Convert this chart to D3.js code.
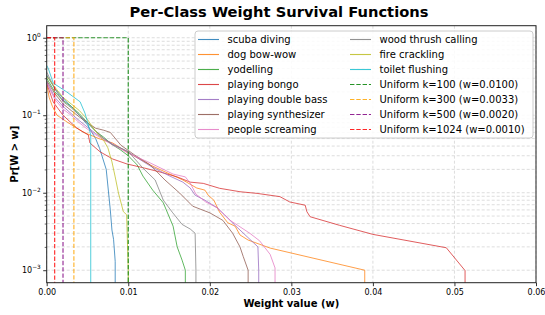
<!DOCTYPE html>
<html>
<head>
<meta charset="utf-8">
<script src="https://cdn.jsdelivr.net/npm/d3@7"></script>
<style>
  body { margin: 0; background: #fff; }
  svg { font-family: "DejaVu Sans", sans-serif; }
</style>
</head>
<body>
<div id="chart"></div>
<script>
// survival curves, [w, Pr[W > w]]
var scubaDiving = [[0,0.33],[0.001,0.22],[0.002,0.165],[0.003,0.13],[0.004,0.1],[0.005,0.075],[0.006,0.05],[0.0065,0.037],[0.0073,0.02],[0.0078,0.006],[0.008,0.0033],[0.0082,0.0025],[0.0084,0.0013]];
var dogBowWow = [[0,0.25],[0.0003,0.17],[0.0007,0.13],[0.00126,0.1],[0.0025,0.0817],[0.00445,0.0607],[0.00653,0.0493],[0.0081,0.0438],[0.00984,0.0335],[0.0127,0.0228],[0.0151,0.0174],[0.0167,0.0146],[0.0184,0.0115],[0.0194,0.0108],[0.0198,0.0093],[0.0205,0.008],[0.0212,0.0056],[0.0222,0.0041],[0.0231,0.0037],[0.0237,0.00285],[0.0247,0.00245],[0.0274,0.00193],[0.039,0.001]];
var yodelling = [[0,0.3],[0.001,0.2],[0.002,0.155],[0.003,0.13],[0.004,0.105],[0.005,0.08],[0.006,0.062],[0.007,0.052],[0.008,0.042],[0.009,0.036],[0.01,0.03],[0.0111,0.0228],[0.0118,0.0164],[0.013,0.0108],[0.0143,0.0074],[0.0155,0.0037],[0.016,0.002],[0.0166,0.00135],[0.017,0.001]];
var playingBongo = [[0,0.26],[0.0002,0.224],[0.0008,0.148],[0.002,0.1],[0.00368,0.0684],[0.0051,0.0556],[0.0053,0.0438],[0.00653,0.0338],[0.0081,0.0272],[0.00984,0.0235],[0.012,0.0208],[0.0139,0.0185],[0.016,0.016],[0.0176,0.0137],[0.0192,0.0132],[0.0212,0.0114],[0.0237,0.0103],[0.0258,0.0098],[0.0286,0.0089],[0.0298,0.0076],[0.0317,0.0069],[0.0319,0.0057],[0.0323,0.0049],[0.0359,0.0038],[0.04,0.0029],[0.049,0.00195],[0.0513,0.00099]];
var playingDoubleBass = [[0,0.27],[0.001,0.17],[0.002,0.13],[0.003,0.105],[0.004,0.085],[0.005,0.07],[0.006,0.058],[0.007,0.05],[0.008,0.043],[0.009,0.038],[0.01,0.0335],[0.0127,0.0221],[0.0151,0.0164],[0.0167,0.0137],[0.0176,0.0115],[0.0182,0.0093],[0.0194,0.008],[0.0209,0.0064],[0.0218,0.0052],[0.0232,0.0037],[0.0259,0.002],[0.026,0.001]];
var playingSynthesizer = [[0,0.28],[0.001,0.19],[0.002,0.14],[0.003,0.115],[0.004,0.095],[0.005,0.08],[0.006,0.068],[0.007,0.064],[0.0078,0.06],[0.0091,0.041],[0.0108,0.0306],[0.0127,0.0228],[0.0145,0.0146],[0.0163,0.0099],[0.0179,0.0067],[0.02,0.0055],[0.0216,0.0044],[0.0228,0.003],[0.0237,0.002],[0.0241,0.0015],[0.0247,0.001]];
var peopleScreaming = [[0,0.26],[0.001,0.16],[0.002,0.12],[0.003,0.1],[0.004,0.08],[0.005,0.066],[0.006,0.056],[0.007,0.048],[0.008,0.042],[0.009,0.037],[0.01,0.0324],[0.0127,0.0242],[0.0155,0.0174],[0.017,0.016],[0.0176,0.0133],[0.0183,0.0096],[0.0195,0.0076],[0.0209,0.0064],[0.0225,0.0044],[0.0249,0.003],[0.0261,0.0024],[0.0274,0.0016],[0.028,0.00107]];
var woodThrushCalling = [[0,0.36],[0.001,0.22],[0.002,0.15],[0.003,0.125],[0.004,0.1],[0.005,0.08],[0.006,0.063],[0.007,0.05],[0.008,0.042],[0.009,0.038],[0.01,0.034],[0.0118,0.0208],[0.0133,0.0146],[0.0143,0.008],[0.0154,0.0056],[0.0166,0.0039],[0.0176,0.0034],[0.0182,0.003],[0.0183,0.001]];
var fireCrackling = [[0,0.32],[0.001,0.23],[0.002,0.17],[0.003,0.14],[0.004,0.115],[0.005,0.088],[0.006,0.062],[0.007,0.047],[0.0075,0.038],[0.008,0.025],[0.0084,0.016],[0.0088,0.0099],[0.0094,0.0057],[0.0098,0.0052],[0.01,0.001]];
var toiletFlushing = [[0,0.44],[0.0002,0.4],[0.0008,0.26],[0.00245,0.2],[0.0041,0.149],[0.0047,0.106],[0.0051,0.075],[0.0054,0.0555]];

var classNames = ['scuba diving', 'dog bow-wow', 'yodelling', 'playing bongo', 'playing double bass',
  'playing synthesizer', 'people screaming', 'wood thrush calling', 'fire crackling', 'toilet flushing'];
var classSeries = [scubaDiving, dogBowWow, yodelling, playingBongo, playingDoubleBass,
  playingSynthesizer, peopleScreaming, woodThrushCalling, fireCrackling, toiletFlushing];
var classColors = ['#1f77b4', '#ff7f0e', '#2ca02c', '#d62728', '#9467bd',
  '#8c564b', '#e377c2', '#7f7f7f', '#bcbd22', '#17becf'];

var uniformK = [100, 300, 500, 1024];
var uniformColors = ['green', 'orange', 'purple', 'red'];

var xTicks = [0, 0.01, 0.02, 0.03, 0.04, 0.05, 0.06];
var yTicks = [1e-3, 1e-2, 1e-1, 1];
var yExp = ['\u22123', '\u22122', '\u22121', '0'];

var W = 545, H = 315;
var m = {left: 46.7, right: 9, top: 25.7, bottom: 32.3};

var svg = d3.select('#chart').append('svg')
  .attr('width', W).attr('height', H);

var x = d3.scaleLinear().domain([0, 0.06]).range([m.left, W - m.right]);
var y = d3.scaleLog().domain([6.9e-4, 1.43]).range([H - m.bottom, m.top]);

svg.append('defs').append('clipPath').attr('id', 'plotclip')
  .append('rect')
  .attr('x', m.left).attr('y', m.top)
  .attr('width', W - m.right - m.left).attr('height', H - m.bottom - m.top);

// grid, major + minor on y
var minorY = [];
[1e-3, 1e-2, 1e-1, 1].forEach(function(d) {
  for (var i = 1; i < 10; i++) {
    var v = d * i;
    if (v >= y.domain()[0] && v <= y.domain()[1]) minorY.push(v);
  }
});
var grid = svg.append('g').attr('stroke', '#d4d4d4').attr('stroke-width', 0.8)
  .attr('stroke-dasharray', '3,2').attr('fill', 'none');
grid.selectAll('.gx').data(xTicks).enter().append('line')
  .attr('x1', function(d) { return x(d); }).attr('x2', function(d) { return x(d); })
  .attr('y1', m.top).attr('y2', H - m.bottom);
grid.selectAll('.gy').data(minorY).enter().append('line')
  .attr('x1', m.left).attr('x2', W - m.right)
  .attr('y1', function(d) { return y(d); }).attr('y2', function(d) { return y(d); });

var line = d3.line()
  .x(function(d) { return x(d[0]); })
  .y(function(d) { return y(d[1]); });

var plot = svg.append('g').attr('clip-path', 'url(#plotclip)');

classSeries.forEach(function(s, i) {
  // survival falls to zero after the last weight: drop to the floor
  var pts = s.concat([[s[s.length - 1][0], y.domain()[0] / 10]]);
  plot.append('path')
    .attr('d', line(pts))
    .attr('fill', 'none')
    .attr('stroke', classColors[i])
    .attr('stroke-opacity', 0.75)
    .attr('stroke-width', 1);
});

uniformK.forEach(function(k, i) {
  var pts = [[0, 1], [1 / k, 1], [1 / k, y.domain()[0] / 10]];
  plot.append('path')
    .attr('d', line(pts))
    .attr('fill', 'none')
    .attr('stroke', uniformColors[i])
    .attr('stroke-opacity', 0.8)
    .attr('stroke-width', 1.2)
    .attr('stroke-dasharray', '4.4,1.9');
});

// axes
var xAxis = svg.append('g').attr('transform', 'translate(0,' + (H - m.bottom) + ')')
  .call(d3.axisBottom(x).tickValues(xTicks).tickFormat(d3.format('.2f')).tickSize(3.5).tickPadding(3));
var yAxis = svg.append('g').attr('transform', 'translate(' + m.left + ',0)')
  .call(d3.axisLeft(y).tickValues(yTicks).tickFormat('').tickSize(3.5).tickPadding(3));
svg.append('g').attr('transform', 'translate(' + m.left + ',0)')
  .call(d3.axisLeft(y).tickValues(minorY.filter(function(d) { return yTicks.indexOf(d) < 0; }))
    .tickFormat('').tickSize(2))
  .call(function(g) { g.select('.domain').remove(); g.selectAll('line').attr('stroke-width', 0.6); });

[xAxis, yAxis].forEach(function(g) {
  g.selectAll('text').attr('font-size', 8).attr('font-family', 'DejaVu Sans').attr('fill', '#000');
  g.selectAll('line').attr('stroke', '#000').attr('stroke-width', 0.8);
  g.select('.domain').remove();
});

yTicks.forEach(function(d, i) {
  var t = svg.append('text')
    .attr('x', m.left - 6).attr('y', y(d) + 3)
    .attr('text-anchor', 'end').attr('font-size', 8);
  t.append('tspan').text('10');
  t.append('tspan').attr('dy', -4).attr('font-size', 5.8).text(yExp[i]);
});

svg.append('rect')
  .attr('x', m.left).attr('y', m.top)
  .attr('width', W - m.right - m.left).attr('height', H - m.bottom - m.top)
  .attr('fill', 'none').attr('stroke', '#222').attr('stroke-width', 1);

// legend
var leg = svg.append('g');
leg.append('rect')
  .attr('x', 195).attr('y', 31).attr('width', 338).attr('height', 107)
  .attr('rx', 3).attr('fill', '#fff').attr('fill-opacity', 0.85)
  .attr('stroke', '#ccc').attr('stroke-width', 1);

var legItems = classNames.map(function(n, i) {
  return {label: n, color: classColors[i], dash: null};
}).concat(uniformK.map(function(k, i) {
  return {label: 'Uniform k=' + k + ' (w=' + (1 / k).toFixed(4) + ')', color: uniformColors[i], dash: '4.4,1.9'};
}));

legItems.forEach(function(d, i) {
  var col = i < 7 ? 0 : 1;
  var row = i < 7 ? i : i - 7;
  var lx = col === 0 ? 198 : 350;
  var ly = 39.5 + row * 15;
  var h = leg.append('line')
    .attr('x1', lx).attr('x2', lx + 21).attr('y1', ly).attr('y2', ly)
    .attr('stroke', d.color).attr('stroke-opacity', 0.85)
    .attr('stroke-width', d.dash ? 1.2 : 1.1);
  if (d.dash) h.attr('stroke-dasharray', d.dash);
  leg.append('text')
    .attr('x', lx + 29.5).attr('y', ly + 3.6)
    .attr('font-size', 10).text(d.label);
});

// titles
svg.append('text').attr('x', 279).attr('y', 17)
  .attr('text-anchor', 'middle').attr('font-size', 14.7).attr('font-weight', 'bold')
  .text('Per-Class Weight Survival Functions');
svg.append('text').attr('x', (m.left + W - m.right) / 2).attr('y', 307)
  .attr('text-anchor', 'middle').attr('font-size', 10).attr('font-weight', 'bold')
  .text('Weight value (w)');
svg.append('text')
  .attr('transform', 'translate(17.5,' + ((m.top + H - m.bottom) / 2) + ') rotate(-90)')
  .attr('text-anchor', 'middle').attr('font-size', 10).attr('font-weight', 'bold')
  .text('Pr[W > w]');
</script>
</body>
</html>
